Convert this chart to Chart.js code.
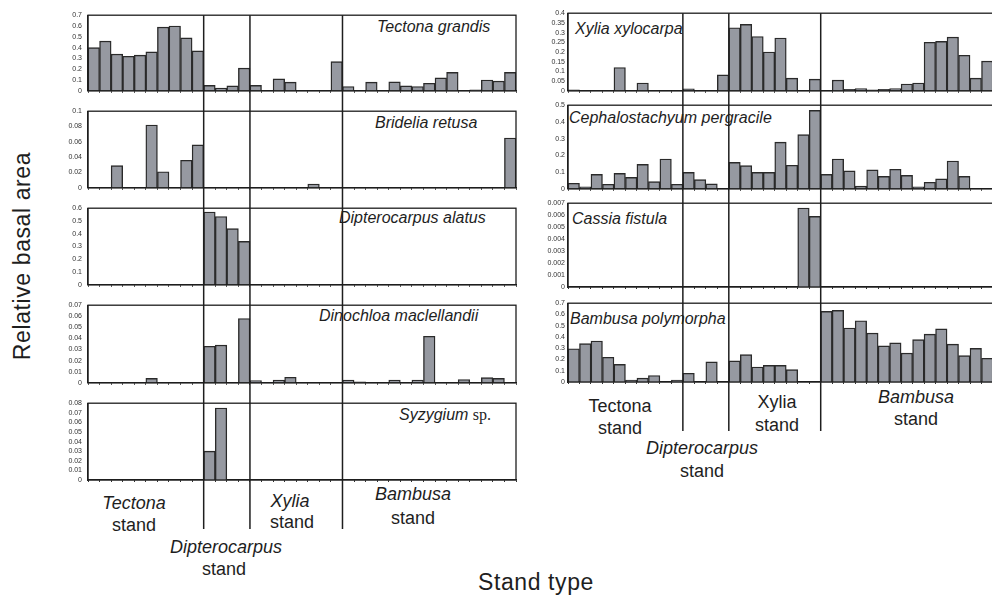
<!DOCTYPE html>
<html>
<head>
<meta charset="utf-8">
<script src="https://cdn.jsdelivr.net/npm/chart.js@4.4.1/dist/chart.umd.min.js"></script>
<style>
html,body{margin:0;padding:0;background:#fff;width:992px;height:598px;overflow:hidden;position:relative;font-family:"Liberation Sans",Arial,Helvetica,sans-serif;}
canvas{position:absolute;}
.t{position:absolute;white-space:nowrap;color:#1e1e1e;line-height:1;}
.sp{font-size:16px;font-style:italic;transform:translateY(-50%);}
.st{font-size:18px;transform:translate(-50%,-50%);}
.i{font-style:italic;}
.ax{font-size:23px;letter-spacing:0.6px;transform:translate(-50%,-50%);}
.serif{font-family:"Liberation Serif","Times New Roman",serif;font-style:normal;}
</style>
</head>
<body>
<div class="t sp" style="left:377px;top:27px">Tectona grandis</div>
<div class="t sp" style="left:375px;top:123px">Bridelia retusa</div>
<div class="t sp" style="left:339px;top:218px">Dipterocarpus alatus</div>
<div class="t sp" style="left:319px;top:316px">Dinochloa maclellandii</div>
<div class="t sp" style="left:399px;top:415px">Syzygium <span class="serif">sp.</span></div>
<div class="t sp" style="left:575px;top:29px">Xylia xylocarpa</div>
<div class="t sp" style="left:569px;top:118px">Cephalostachyum pergracile</div>
<div class="t sp" style="left:572px;top:219px">Cassia fistula</div>
<div class="t sp" style="left:570px;top:319px">Bambusa polymorpha</div>

<div class="t st i" style="left:134px;top:503px">Tectona</div>
<div class="t st" style="left:134px;top:525px">stand</div>
<div class="t st i" style="left:290px;top:501px">Xylia</div>
<div class="t st" style="left:292px;top:522px">stand</div>
<div class="t st i" style="left:413px;top:494px">Bambusa</div>
<div class="t st" style="left:413px;top:518px">stand</div>
<div class="t st i" style="left:226px;top:547px">Dipterocarpus</div>
<div class="t st" style="left:224px;top:569px">stand</div>

<div class="t st" style="left:620px;top:406px">Tectona</div>
<div class="t st" style="left:620px;top:428px">stand</div>
<div class="t st" style="left:777px;top:402px">Xylia</div>
<div class="t st" style="left:777px;top:425px">stand</div>
<div class="t st i" style="left:916px;top:397px">Bambusa</div>
<div class="t st" style="left:916px;top:419px">stand</div>
<div class="t st i" style="left:702px;top:448px">Dipterocarpus</div>
<div class="t st" style="left:702px;top:471px">stand</div>

<div class="t ax" style="left:22px;top:256px;transform:translate(-50%,-50%) rotate(-90deg)">Relative basal area</div>
<div class="t ax" style="left:536px;top:582px">Stand type</div>

<script>
// ---------- data ----------
const standNames = ['Tectona', 'Dipterocarpus', 'Xylia', 'Bambusa'];
const standPlotCounts = [10, 4, 8, 15];

const tectonaGrandis = [0.40,0.46,0.34,0.32,0.33,0.36,0.59,0.60,0.49,0.37,
  0.05,0.025,0.045,0.21,
  0.05,0,0.11,0.08,0,0,0,0.27,
  0.04,0,0.08,0,0.083,0.045,0.04,0.07,0.12,0.17,0,0.01,0.10,0.09,0.17];
const brideliaRetusa = [0,0,0.029,0,0,0.082,0.021,0,0.036,0.056,
  0,0,0,0,
  0,0,0,0,0,0.005,0,0,
  0,0,0,0,0,0,0,0,0,0,0,0,0,0,0.065];
const dipterocarpusAlatus = [0,0,0,0,0,0,0,0,0,0,
  0.57,0.535,0.44,0.34,
  0,0,0,0,0,0,0,0,
  0,0,0,0,0,0,0,0,0,0,0,0,0,0,0];
const dinochloaMaclellandii = [0,0,0,0,0,0.004,0,0,0,0,
  0.033,0.034,0,0.058,
  0.002,0,0.0025,0.005,0,0,0,0,
  0.0025,0.0008,0,0,0.0025,0,0.0025,0.042,0,0,0.003,0,0.0046,0.004,0];
const syzygiumSp = [0,0,0,0,0,0,0,0,0,0,
  0.03,0.075,0,0,
  0,0,0,0,0,0,0,0,
  0,0,0,0,0,0,0,0,0,0,0,0,0,0,0];
const xyliaXylocarpa = [0.005,0,0,0,0.12,0,0.04,0,0,0,
  0.01,0,0,0.082,
  0.325,0.342,0.28,0.2,0.272,0.065,0,0.06,
  0,0.055,0.008,0.012,0.005,0.008,0.012,0.035,0.04,0.25,0.255,0.277,0.183,0.065,0.153];
const cephalostachyumPergracile = [0.033,0.012,0.086,0.027,0.092,0.068,0.146,0.043,0.178,0.027,
  0.098,0.055,0.029,0,
  0.158,0.139,0.098,0.098,0.279,0.141,0.324,0.469,
  0.086,0.178,0.107,0.016,0.113,0.074,0.117,0.08,0.012,0.039,0.059,0.166,0.074,0,0];
const cassiaFistula = [0,0,0,0,0,0,0,0,0,0,
  0,0,0,0,
  0,0,0,0,0,0,0.0066,0.0059,
  0,0,0,0,0,0,0,0,0,0,0,0,0,0,0];
const bambusaPolymorpha = [0.295,0.341,0.364,0.22,0.156,0.017,0.035,0.058,0,0.017,
  0.078,0,0.179,0,
  0.188,0.243,0.133,0.148,0.148,0.11,0,0,
  0.628,0.636,0.48,0.544,0.434,0.321,0.347,0.257,0.376,0.425,0.472,0.336,0.234,0.298,0.211];

const leftAxisMax = [0.7, 0.1, 0.6, 0.07, 0.08];
const leftAxisStep = [0.1, 0.02, 0.1, 0.01, 0.01];
const rightAxisMax = [0.4, 0.5, 0.007, 0.7];
const rightAxisStep = [0.05, 0.1, 0.001, 0.1];

// plot categories
const plotLabels = [];
standNames.forEach((s, i) => { for (let k = 1; k <= standPlotCounts[i]; k++) plotLabels.push(s + ' ' + k); });

// ---------- layout ----------
const BAR_FILL = 'rgb(150,153,161)';
const BAR_EDGE = '#2a2a2a';
const LINE = '#1e1e1e';
const FONT = '"Liberation Sans", Arial, sans-serif';

const columns = [
  { x: 30, w: 490, yW: 58, padR: 4, tickPad: 6, lineEnd: 529,
    panels: [
      { data: tectonaGrandis, top: 11, bottom: 93 },
      { data: brideliaRetusa, top: 107, bottom: 189 },
      { data: dipterocarpusAlatus, top: 204, bottom: 286 },
      { data: dinochloaMaclellandii, top: 301, bottom: 386 },
      { data: syzygiumSp, top: 399, bottom: 480 }
    ], max: leftAxisMax, step: leftAxisStep },
  { x: 520, w: 480, yW: 48, padR: 7, tickPad: 3, lineEnd: 431,
    panels: [
      { data: xyliaXylocarpa, top: 12, bottom: 93 },
      { data: cephalostachyumPergracile, top: 104, bottom: 189 },
      { data: cassiaFistula, top: 202, bottom: 287 },
      { data: bambusaPolymorpha, top: 302, bottom: 382 }
    ], max: rightAxisMax, step: rightAxisStep }
];

const PADT = 6, XH = 2;

const framePlugin = {
  id: 'frame',
  afterDatasetsDraw(chart, args, opts) {
    const ctx = chart.ctx, ca = chart.chartArea, xs = chart.scales.x;
    ctx.save();
    ctx.strokeStyle = LINE;
    ctx.lineWidth = 1.3;
    ctx.strokeRect(ca.left, ca.top, ca.right - ca.left, ca.bottom - ca.top);
    ctx.lineWidth = 1.5;
    let cum = 0;
    for (let s = 0; s < standPlotCounts.length - 1; s++) {
      cum += standPlotCounts[s];
      const x = (xs.getPixelForValue(cum - 1) + xs.getPixelForValue(cum)) / 2;
      ctx.beginPath();
      ctx.moveTo(x, opts.first ? ca.top : 0);
      ctx.lineTo(x, chart.height);
      ctx.stroke();
    }
    ctx.restore();
  }
};

columns.forEach(col => {
  col.panels.forEach((p, i) => {
    const last = i === col.panels.length - 1;
    const cTop = p.top - PADT;
    const cBot = last ? col.lineEnd : col.panels[i + 1].top - PADT;
    const h = cBot - cTop;
    const padB = h - (p.bottom - cTop) - XH;
    const cv = document.createElement('canvas');
    cv.width = col.w; cv.height = h;
    cv.style.left = col.x + 'px'; cv.style.top = cTop + 'px';
    cv.style.width = col.w + 'px'; cv.style.height = h + 'px';
    document.body.appendChild(cv);
    new Chart(cv, {
      type: 'bar',
      data: {
        labels: plotLabels,
        datasets: [{
          data: p.data,
          backgroundColor: BAR_FILL,
          borderColor: BAR_EDGE,
          borderWidth: 1.4,
          borderSkipped: 'start',
          categoryPercentage: 1,
          barPercentage: 1
        }]
      },
      options: {
        responsive: false,
        animation: false,
        devicePixelRatio: 1,
        layout: { padding: { top: PADT, right: col.padR, bottom: padB, left: 0 } },
        plugins: { legend: { display: false }, tooltip: { enabled: false }, frame: { first: i === 0 } },
        scales: {
          x: {
            type: 'category',
            offset: true,
            grid: { display: true, drawOnChartArea: false, drawTicks: true, tickLength: 2, offset: true, color: '#333', lineWidth: 1 },
            border: { display: true, color: LINE, width: 1.3 },
            ticks: { display: false },
            afterFit: s => { s.height = XH; }
          },
          y: {
            min: 0,
            max: col.max[i],
            ticks: {
              stepSize: col.step[i],
              autoSkip: false,
              color: '#333',
              padding: col.tickPad,
              font: { size: 7, family: FONT },
              callback: v => String(+(+v).toFixed(4))
            },
            grid: { display: false, drawTicks: false },
            border: { display: true, color: LINE, width: 1.3 },
            afterFit: s => { s.width = col.yW; }
          }
        }
      },
      plugins: [framePlugin]
    });
  });
});
</script>
</body>
</html>
